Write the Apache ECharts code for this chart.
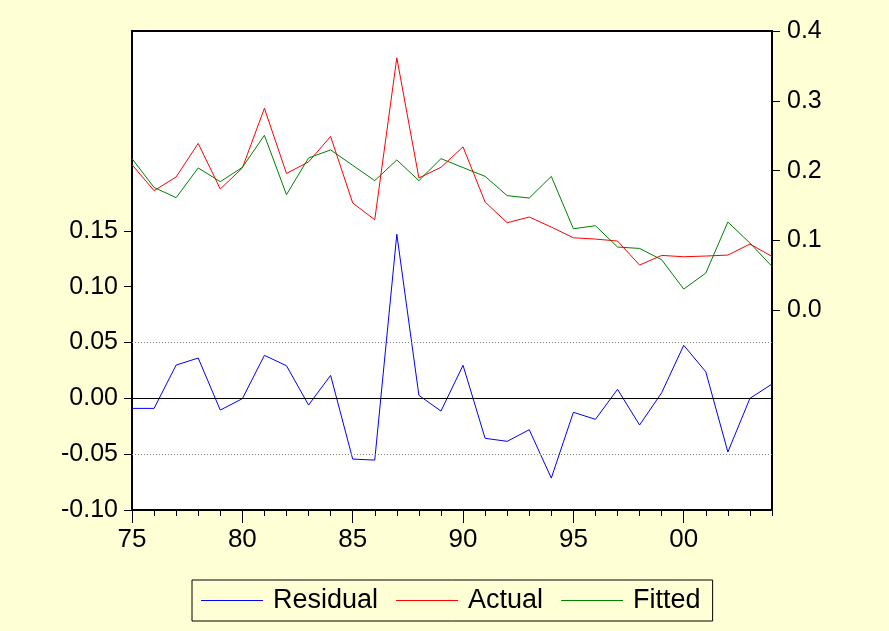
<!DOCTYPE html>
<html>
<head>
<meta charset="utf-8">
<script src="https://cdn.jsdelivr.net/npm/echarts@6/dist/echarts.min.js"></script>
<style>
html,body{margin:0;padding:0;background:#FFFFD6;}
#chart{width:889px;height:631px;}
</style>
</head>
<body>
<div id="chart"></div>
<script>
const years = [1975,1976,1977,1978,1979,1980,1981,1982,1983,1984,1985,1986,1987,1988,1989,
               1990,1991,1992,1993,1994,1995,1996,1997,1998,1999,2000,2001,2002,2003,2004];
const residual = [-0.009,-0.009,0.0298,0.0361,-0.0105,-0.0003,0.0385,0.0292,-0.006,0.0206,
                  -0.0544,-0.0553,0.147,0.0027,-0.0114,0.0296,-0.0358,-0.0385,-0.0281,-0.0714,
                  -0.0125,-0.0188,0.0081,-0.0239,0.005,0.0475,0.0238,-0.0481,0.0,0.0128];
const actual = [0.2086,0.1713,0.191,0.239,0.1737,0.2038,0.2893,0.196,0.2125,0.249,
                0.1537,0.1297,0.3616,0.1895,0.2048,0.234,0.1551,0.1254,0.1336,0.1192,
                0.1039,0.102,0.0992,0.0648,0.0786,0.0767,0.0777,0.0791,0.0949,0.0771];
const fitted = [0.2172,0.176,0.1613,0.2039,0.1842,0.2047,0.2506,0.1656,0.2182,0.2297,
                0.2076,0.1857,0.2153,0.1857,0.2172,0.2044,0.1918,0.1642,0.1608,0.1918,
                0.1168,0.1211,0.0906,0.0886,0.0724,0.0304,0.0533,0.1264,0.0963,0.0628];
const leftTicks = [-0.1,-0.05,0,0.05,0.1,0.15];
const rightTicks = [0,0.1,0.2,0.3,0.4];
const xLabelYears = [1975,1980,1985,1990,1995,2000];
const zeroLine = [0];
const dottedLines = [-0.05,0.05];

const FONT = "'Liberation Sans', Arial, sans-serif";
const chart = echarts.init(document.getElementById('chart'), null, {renderer:'canvas'});
const cats = years.map(String);
const isMajor = (idx) => xLabelYears.indexOf(years[idx]) >= 0;

chart.setOption({
  animation: false,
  backgroundColor: '#FFFFD6',
  textStyle: {fontFamily: FONT, color: '#000'},
  grid: {left:132, right:117, top:31, bottom:121, show:true, backgroundColor:'#FFFFFF',
         borderColor:'#000', borderWidth:2, containLabel:false},
  legend: {
    left: 192, top: 580,
    padding: [7, 12, 7, 9],
    itemGap: 18, itemWidth: 62, itemHeight: 1,
    icon: 'rect',
    borderColor: '#000', borderWidth: 1, borderRadius: 0,
    textStyle: {fontFamily: FONT, fontSize: 27, color: '#000', lineHeight: 26, padding:[0,0,0,5]},
    data: ['Residual','Actual','Fitted']
  },
  xAxis: [
    {type:'category', data:cats, boundaryGap:false, position:'bottom',
     axisLine:{show:true, onZero:false, lineStyle:{color:'#000', width:2}},
     axisTick:{show:true, interval:0, length:6, lineStyle:{color:'#000', width:1}},
     axisLabel:{show:false}, splitLine:{show:false}},
    {type:'category', data:cats, boundaryGap:false, position:'bottom',
     axisLine:{show:false, onZero:false},
     axisTick:{show:true, interval:(i)=>isMajor(i), length:13, lineStyle:{color:'#000', width:1}},
     axisLabel:{show:true, interval:(i)=>isMajor(i), margin:17, fontSize:26, fontFamily:FONT, color:'#000',
       formatter:(v)=>String(v).slice(2)},
     splitLine:{show:false}}
  ],
  yAxis: [
    {type:'value', position:'left', min:-0.1, max:0.329,
     axisLine:{show:true, lineStyle:{color:'#000', width:2}},
     axisTick:{show:true, length:8, customValues:leftTicks, lineStyle:{color:'#000', width:1}},
     axisLabel:{show:true, customValues:leftTicks, margin:14, fontSize:25, fontFamily:FONT, color:'#000',
       formatter:(v)=>v.toFixed(2)},
     splitLine:{show:false}},
    {type:'value', position:'right', min:-0.286, max:0.4,
     axisLine:{show:true, lineStyle:{color:'#000', width:2}},
     axisTick:{show:true, length:8, customValues:rightTicks, lineStyle:{color:'#000', width:1}},
     axisLabel:{show:true, customValues:rightTicks, margin:15, fontSize:25, fontFamily:FONT, color:'#000',
       formatter:(v)=>v.toFixed(1)},
     splitLine:{show:false}}
  ],
  series: [
    {name:'Residual', type:'line', xAxisIndex:0, yAxisIndex:0, data:residual,
     symbol:'none', color:'#0000FF', lineStyle:{color:'#0000FF', width:1},
     markLine:{silent:true, symbol:'none', label:{show:false},
       data: zeroLine.map(v=>({yAxis:v, lineStyle:{color:'#000', width:1, type:'solid'}}))
         .concat(dottedLines.map(v=>({yAxis:v, lineStyle:{color:'#808080', width:1, type:[1,2]}})))}},
    {name:'Actual', type:'line', xAxisIndex:0, yAxisIndex:1, data:actual,
     symbol:'none', color:'#FF0000', lineStyle:{color:'#FF0000', width:1}},
    {name:'Fitted', type:'line', xAxisIndex:0, yAxisIndex:1, data:fitted,
     symbol:'none', color:'#008000', lineStyle:{color:'#008000', width:1}}
  ]
});
</script>
</body>
</html>
